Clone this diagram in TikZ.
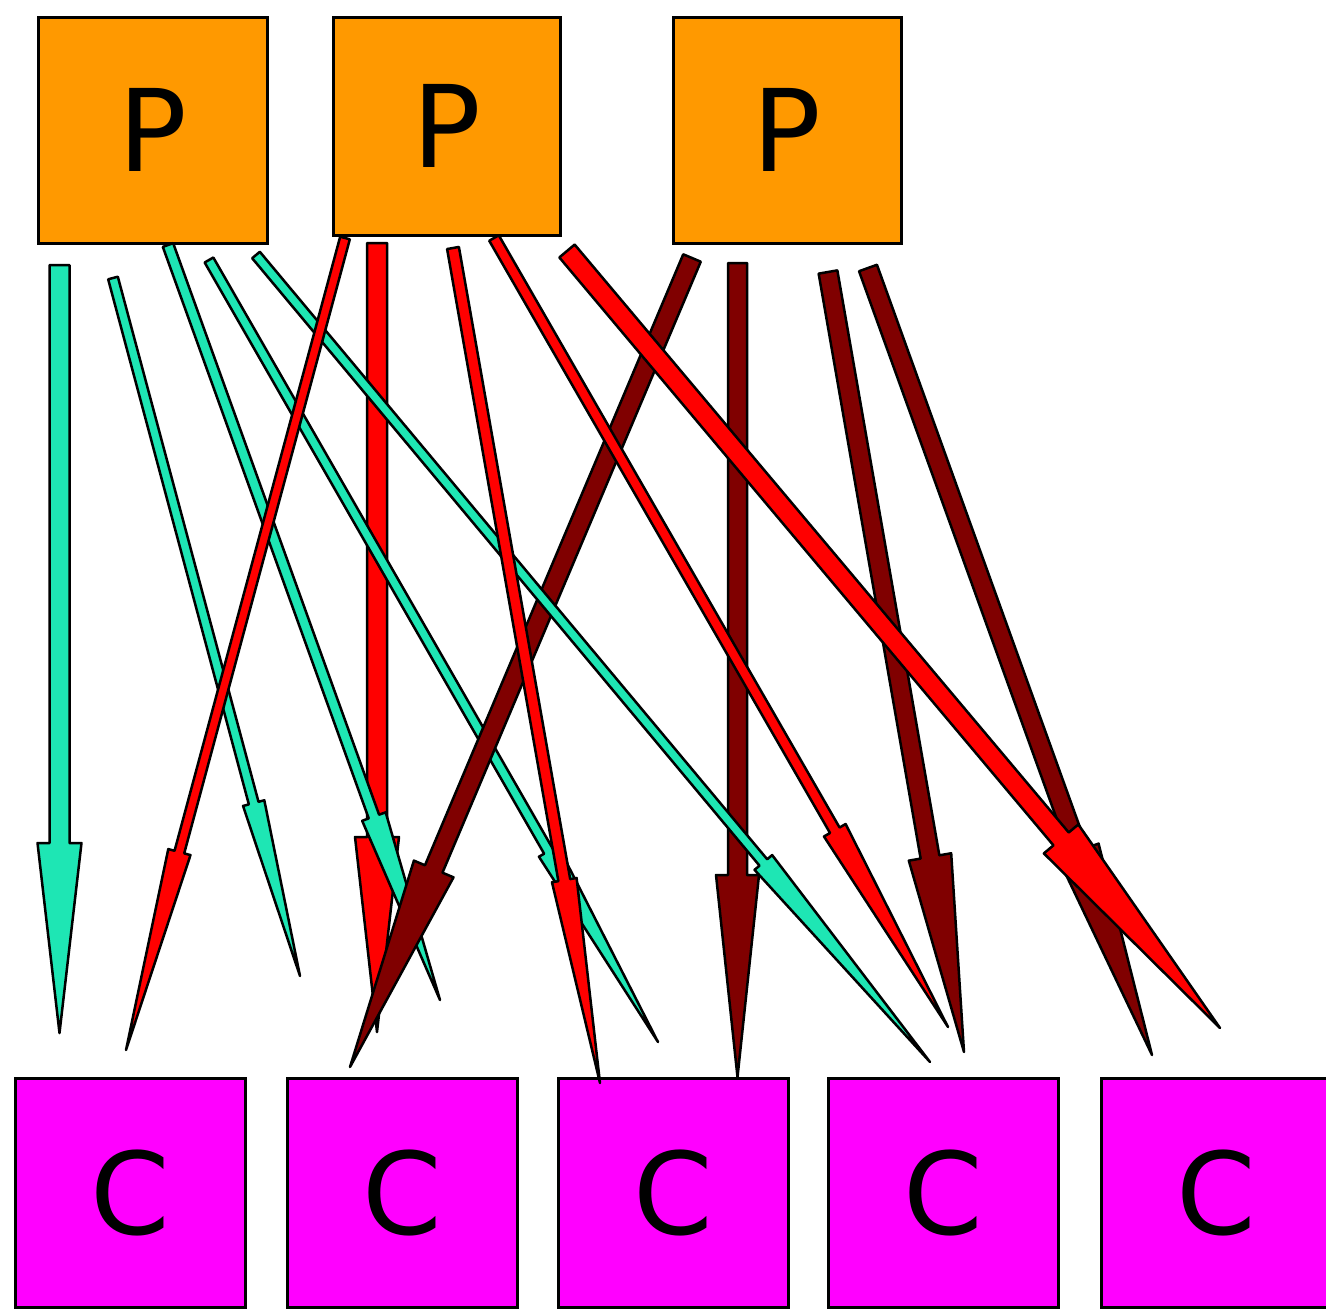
\documentclass[tikz,border=0pt]{standalone}
\usepackage{fontspec}
\setmainfont{DejaVu Sans}
\usetikzlibrary{calc}

\definecolor{boxorange}{RGB}{255,153,0}
\definecolor{boxmagenta}{RGB}{255,0,255}
\definecolor{edgeteal}{RGB}{30,230,180}
\definecolor{edgered}{RGB}{255,0,0}
\definecolor{edgemaroon}{RGB}{128,0,0}

% Outlined "fat" arrow: style, start, tip, shaft half width, head half width, head length
\newcommand{\edgearrow}[6]{%
  \coordinate (ea-h) at ($(#3)!#6!(#2)$);
  \filldraw[#1]
    ($(#2)!#4!90:(#3)$) -- ($(ea-h)!#4!90:(#3)$) -- ($(ea-h)!#5!90:(#3)$)
    -- (#3)
    -- ($(ea-h)!#5!-90:(#3)$) -- ($(ea-h)!#4!-90:(#3)$) -- ($(#2)!#4!-90:(#3)$)
    -- cycle;
}

\tikzset{
  anybox/.style={draw=black, line width=3pt, inner sep=0pt,
    font=\fontsize{114}{114}\selectfont},
  pbox/.style={anybox, fill=boxorange},
  cbox/.style={anybox, fill=boxmagenta, minimum width=230pt, minimum height=229pt},
  edge/.style={draw=black, line width=2.5pt, line join=round},
  tealedge/.style={edge, fill=edgeteal},
  rededge/.style={edge, fill=edgered},
  maroonedge/.style={edge, fill=edgemaroon},
}

\begin{document}
\begin{tikzpicture}[x=1pt, y=-1pt]
\useasboundingbox (0,0) rectangle (1326,1309);
\fill[white] (0,0) rectangle (1326,1309);

% producers
\node[pbox, minimum width=229pt, minimum height=226pt] (p1) at (152.5,130) {P};
\node[pbox, minimum width=227pt, minimum height=218pt] (p2) at (446.5,126) {P};
\node[pbox, minimum width=228pt, minimum height=226pt] (p3) at (787,130) {P};

% consumers
\node[cbox] (c1) at (130,1192.5) {C};
\node[cbox] (c2) at (402,1192.5) {C};
\node[cbox] (c3) at (673,1192.5) {C};
\node[cbox] (c4) at (943,1192.5) {C};
\node[cbox] (c5) at (1216,1192.5) {C};

% arrow end points
\coordinate (t1s) at (59.5,265);  \coordinate (t1e) at (59.5,1033);
\coordinate (t2s) at (113,278);   \coordinate (t2e) at (300,976);
\coordinate (t3s) at (168,245);   \coordinate (t3e) at (440,1000);
\coordinate (t4s) at (209,260);   \coordinate (t4e) at (658,1042);
\coordinate (t5s) at (256,255);   \coordinate (t5e) at (930,1062);
\coordinate (r1s) at (345,238);   \coordinate (r1e) at (126,1050);
\coordinate (r2s) at (377,243);   \coordinate (r2e) at (377,1032);
\coordinate (r3s) at (453,248);   \coordinate (r3e) at (600,1083);
\coordinate (r4s) at (494,238);   \coordinate (r4e) at (948,1027);
\coordinate (r5s) at (567,251);   \coordinate (r5e) at (1220,1028);
\coordinate (m1s) at (692,258);   \coordinate (m1e) at (350,1067);
\coordinate (m2s) at (737.5,263); \coordinate (m2e) at (737.5,1077);
\coordinate (m3s) at (828,272);   \coordinate (m3e) at (964,1052);
\coordinate (m4s) at (868,268);   \coordinate (m4e) at (1152,1055);

% arrows, back to front
\edgearrow{rededge}{r2s}{r2e}{10pt}{22pt}{195pt}
\edgearrow{tealedge}{t3s}{t3e}{5.5pt}{12.5pt}{195pt}
\edgearrow{tealedge}{t4s}{t4e}{5pt}{11pt}{220pt}
\edgearrow{maroonedge}{m1s}{m1e}{9.5pt}{21.5pt}{215pt}
\edgearrow{maroonedge}{m2s}{m2e}{9.5pt}{21.5pt}{202pt}
\edgearrow{maroonedge}{m3s}{m3e}{9.5pt}{21.5pt}{198pt}
\edgearrow{maroonedge}{m4s}{m4e}{9.5pt}{21.5pt}{217pt}
\edgearrow{tealedge}{t1s}{t1e}{10pt}{22pt}{190pt}
\edgearrow{tealedge}{t2s}{t2e}{5pt}{11pt}{179pt}
\edgearrow{tealedge}{t5s}{t5e}{5pt}{11.5pt}{260pt}
\edgearrow{rededge}{r1s}{r1e}{5pt}{11.5pt}{205pt}
\edgearrow{rededge}{r3s}{r3e}{6pt}{12.5pt}{206pt}
\edgearrow{rededge}{r4s}{r4e}{5.5pt}{12.5pt}{227pt}
\edgearrow{rededge}{r5s}{r5e}{10pt}{22.5pt}{247pt}
\end{tikzpicture}
\end{document}
